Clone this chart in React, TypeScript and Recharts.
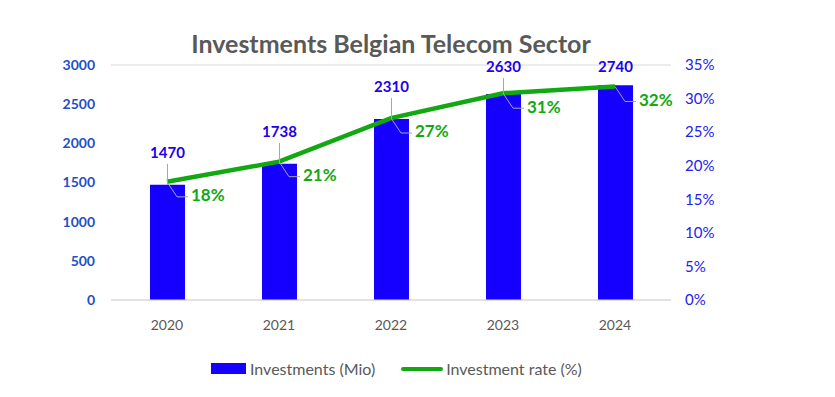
import { ComposedChart, Bar, Line, XAxis, YAxis, CartesianGrid, LabelList } from 'recharts';

const years = ['2020', '2021', '2022', '2023', '2024'];
const investments = [1470, 1738, 2310, 2630, 2740];
const investmentRate = [17.6, 20.6, 27.1, 30.8, 31.8];
const leftTicks = [0, 500, 1000, 1500, 2000, 2500, 3000];
const rightTicks = [0, 5, 10, 15, 20, 25, 30, 35];

const data = years.map((year, i) => ({
  year,
  investments: investments[i],
  rate: investmentRate[i],
}));

const FONT = 'Lato, "Open Sans", sans-serif';
const BAR_BLUE = '#1500ff';
const GREEN = '#12a812';
const LABEL_BLUE = '#2200ee';
const GREY_TEXT = '#595959';

const BarValueLabel = (props: any) => {
  const { x, y, width, value } = props;
  const cx = x + width / 2;
  const labelY = Math.max(y - 31, 68);
  const lineStart = labelY + 10;
  return (
    <g>
      {y - lineStart > 10 && (
        <line x1={cx} y1={lineStart} x2={cx} y2={y} stroke="#a6a6a6" strokeWidth={1} />
      )}
      <text x={cx} y={labelY} textAnchor="middle" dominantBaseline="middle"
        fill={LABEL_BLUE} fontFamily={FONT} fontWeight={700} fontSize={15}>
        {value}
      </text>
    </g>
  );
};

const RateLabel = (props: any) => {
  const { x, y, value } = props;
  return (
    <g>
      <polyline points={`${x},${y} ${x + 10},${y + 15} ${x + 21},${y + 15}`}
        fill="none" stroke="#a6a6a6" strokeWidth={1} />
      <text x={x + 24} y={y + 15} dominantBaseline="middle"
        fill={GREEN} fontFamily={FONT} fontWeight={700} fontSize={17}>
        {`${Math.round(value)}%`}
      </text>
    </g>
  );
};

export default function App() {
  return (
    <div style={{ position: 'absolute', left: 0, top: 0, width: 835, height: 397, background: '#fff' }}>
      <div style={{ position: 'absolute', left: 0, width: 782, top: 28, textAlign: 'center', fontFamily: FONT, fontWeight: 700, fontSize: 25, color: GREY_TEXT }}>
        Investments Belgian Telecom Sector
      </div>
      <ComposedChart width={835} height={397} data={data}
        margin={{ top: 65, right: 104, bottom: 67, left: 51 }}>
        <CartesianGrid vertical={false} stroke="#d9d9d9" />
        <XAxis dataKey="year" height={30} axisLine={{ stroke: '#d9d9d9' }} tickLine={false} tickMargin={14}
          tick={{ fill: GREY_TEXT, fontFamily: FONT, fontSize: 14 }} />
        <YAxis yAxisId="left" width={60} domain={[0, 3000]} ticks={leftTicks} axisLine={false} tickLine={false}
          tickMargin={10} tick={{ fill: '#1f4fc9', fontFamily: FONT, fontSize: 14, fontWeight: 700 }} />
        <YAxis yAxisId="right" orientation="right" width={60} domain={[0, 35]} ticks={rightTicks} axisLine={false}
          tickLine={false} tickMargin={8} tickFormatter={(v: number) => `${v}%`}
          tick={{ fill: '#2222ee', fontFamily: FONT, fontSize: 15 }} />
        <Bar yAxisId="left" dataKey="investments" name="Investments (Mio)" fill={BAR_BLUE} barSize={35} isAnimationActive={false}>
          <LabelList dataKey="investments" content={BarValueLabel} />
        </Bar>
        <Line yAxisId="right" dataKey="rate" name="Investment rate (%)" stroke={GREEN} strokeWidth={4.5}
          dot={false} activeDot={false} isAnimationActive={false}>
          <LabelList dataKey="rate" content={RateLabel} />
        </Line>
      </ComposedChart>
      <div style={{ position: 'absolute', left: 211, top: 359, display: 'flex', alignItems: 'center', fontFamily: FONT, fontSize: 16, color: GREY_TEXT, whiteSpace: 'nowrap' }}>
        <span style={{ display: 'inline-block', width: 35, height: 11, background: BAR_BLUE, marginRight: 4 }} />
        <span style={{ marginRight: 26 }}>Investments (Mio)</span>
        <span style={{ display: 'inline-block', width: 42, height: 4, borderRadius: 2, background: GREEN, marginRight: 3 }} />
        <span>Investment rate (%)</span>
      </div>
    </div>
  );
}
